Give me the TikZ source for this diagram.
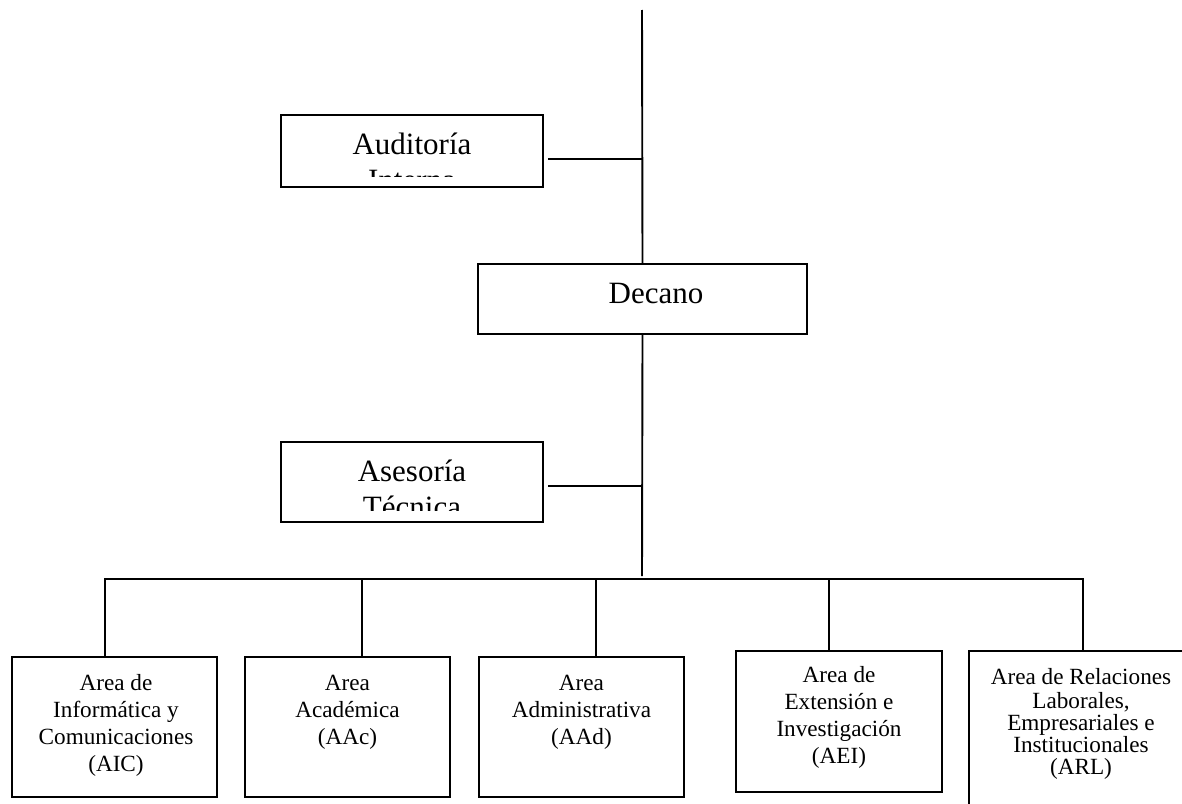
\documentclass[tikz,border=0pt]{standalone}
\usepackage{fontspec}
\setmainfont{Liberation Serif}
\begin{document}
\begin{tikzpicture}[x=1pt,y=-1pt,line width=1.9pt,
  box/.style={draw, inner sep=0pt, outer sep=0pt},
  bigtext/.style={font=\fontsize{31}{35.6}\selectfont, align=center, inner sep=0pt},
  smalltext/.style={font=\fontsize{23.2}{27}\selectfont, align=center, inner sep=0pt},
  tighttext/.style={font=\fontsize{23.2}{21.9}\selectfont, align=center, inner sep=0pt},
  conn/.style={draw, line cap=rect}]
\clip (0,0) rectangle (1182,803);
\fill[white] (0,0) rectangle (1182,803);

% boxes
\node[box, minimum width=262, minimum height=72] (aud) at (412,151) {};
\node[box, minimum width=329, minimum height=70] (dec) at (642.5,299) {};
\node[box, minimum width=262, minimum height=80] (ase) at (412,482) {};
\node[box, minimum width=205, minimum height=140] (aic) at (114.5,727) {};
\node[box, minimum width=205, minimum height=140] (aac) at (347.5,727) {};
\node[box, minimum width=205, minimum height=140] (aad) at (581.5,727) {};
\node[box, minimum width=206, minimum height=141] (aei) at (839,721.5) {};
\node[box, minimum width=221, minimum height=159] (arl) at (1079.5,730.5) {};

% texts
\begin{scope}
  \clip (283,117) rectangle (541,176);
  \node[bigtext, anchor=north] (audt) at (412,129.1) {\strut Auditoría\\Interna};
\end{scope}
\node[bigtext, anchor=base] (dect) at (656,303) {Decano};
\begin{scope}
  \clip (283,444) rectangle (541,510);
  \node[bigtext, anchor=north] (aset) at (412,456.1) {\strut Asesoría\\Técnica};
\end{scope}
\node[smalltext, anchor=north] (aict) at (116,671.1) {\strut Area de\\Informática y\\Comunicaciones\\(AIC)};
\node[smalltext, anchor=north] (aact) at (347.5,671.1) {\strut Area\\Académica\\(AAc)};
\node[smalltext, anchor=north] (aadt) at (581.5,671.1) {\strut Area\\Administrativa\\(AAd)};
\node[smalltext, anchor=north] (aeit) at (839,663.1) {\strut Area de\\Extensión e\\Investigación\\(AEI)};
\node[tighttext, anchor=north] (arlt) at (1081,667.7) {\strut Area de Relaciones\\Laborales,\\Empresariales e\\Institucionales\\(ARL)};

% connectors
\coordinate (top) at (642,10);
\coordinate (bot) at (642,576);
\draw (top) -- (dec.north);
\draw (dec.south) -- (bot);
\coordinate (audj) at (548,159);
\coordinate (asej) at (548,486);
\draw (audj) -- (audj -| top);
\draw (asej) -- (asej -| top);

\coordinate (b1) at (105,579);
\coordinate (b2) at (362,579);
\coordinate (b3) at (596,579);
\coordinate (b4) at (829,579);
\coordinate (b5) at (1083,579);
\draw[conn] (b1) -- (b5);
\draw[conn] (b1) -- (b1 |- aic.north);
\draw (b2) -- (b2 |- aac.north);
\draw (b3) -- (b3 |- aad.north);
\draw (b4) -- (b4 |- aei.north);
\draw[conn] (b5) -- (b5 |- arl.north);
\end{tikzpicture}
\end{document}
